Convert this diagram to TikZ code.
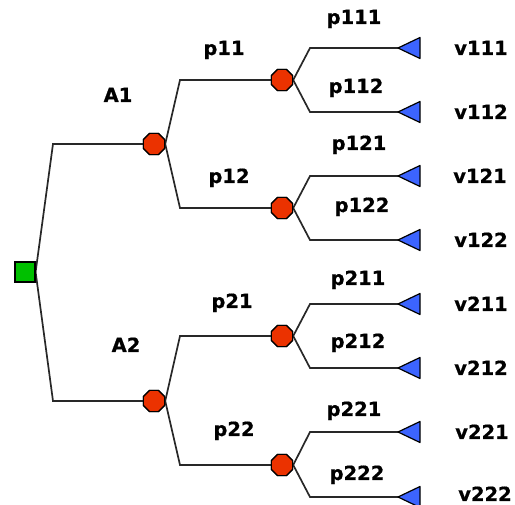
\documentclass[tikz,border=0pt]{standalone}
\usepackage{fontspec}
\setmainfont{DejaVu Sans}
\newfontfamily\lblfont[FakeBold=0.6]{DejaVu Sans Bold}
\usetikzlibrary{shapes.geometric}
\definecolor{decgreen}{RGB}{0,192,0}
\definecolor{chancered}{RGB}{235,50,0}
\definecolor{endblue}{RGB}{60,100,255}
\definecolor{edgegray}{RGB}{40,40,40}
\begin{document}
\begin{tikzpicture}[x=1pt,y=-1pt,
  decision/.style={rectangle, draw=black, fill=decgreen, line width=1.2pt,
    minimum size=20pt, inner sep=0pt},
  chance/.style={regular polygon, regular polygon sides=8, draw=black,
    fill=chancered, line width=1.2pt, minimum size=23pt, inner sep=0pt},
  leaf/.style={fill=endblue, draw=black, line width=1.2pt, line join=round},
  edge/.style={draw=edgegray, line width=1.7pt},
  lbl/.style={anchor=base, font=\fontsize{19.5}{23}\lblfont,
    text=black, inner sep=0pt}]
\useasboundingbox (0,0) rectangle (515,505);

% decision and chance nodes
\node[decision] (R) at (25,272) {};
\node[chance] (A1) at (154,144) {};
\node[chance] (A2) at (154,401) {};
\node[chance] (p11) at (282,80) {};
\node[chance] (p12) at (282,208) {};
\node[chance] (p21) at (282,336) {};
\node[chance] (p22) at (282,465) {};

% tips of the terminal triangles
\foreach \n/\y in {111/48,112/112,121/176,122/240,211/304,212/368,221/432,222/497}
  \coordinate (t\n) at (398,\y);

% branches
\draw[edge] (R.east) -- (53,144) -- (A1.west);
\draw[edge] (R.east) -- (53,401) -- (A2.west);
\draw[edge] (A1.east) -- (180,80) -- (p11.west);
\draw[edge] (A1.east) -- (180,208) -- (p12.west);
\draw[edge] (A2.east) -- (180,336) -- (p21.west);
\draw[edge] (A2.east) -- (180,465) -- (p22.west);
\foreach \p/\a/\b in {p11/111/112,p12/121/122,p21/211/212,p22/221/222}{
  \draw[edge] (\p.east) -- (310,0 |- t\a) -- (t\a);
  \draw[edge] (\p.east) -- (310,0 |- t\b) -- (t\b);
}

% terminal triangles
\foreach \n in {111,112,121,122,211,212,221,222}
  \filldraw[leaf] (t\n) -- ++(22,-10.5) -- ++(0,21) -- cycle;

% redraw nodes on top of branch ends
\node[decision] at (R) {};
\foreach \c in {A1,A2,p11,p12,p21,p22}
  \node[chance] at (\c) {};

% branch labels
\node[lbl] (lA1) at (118,102) {A1};
\node[lbl] (lA2) at (126,352) {A2};
\node[lbl] (lp11) at (224,55) {p11};
\node[lbl] (lp12) at (229,183) {p12};
\node[lbl] (lp21) at (232,308) {p21};
\node[lbl] (lp22) at (234,436) {p22};
\node[lbl] (lp111) at (354,24) {p111};
\node[lbl] (lp112) at (356,93) {p112};
\node[lbl] (lp121) at (359,150) {p121};
\node[lbl] (lp122) at (362,212) {p122};
\node[lbl] (lp211) at (358,285) {p211};
\node[lbl] (lp212) at (358,348) {p212};
\node[lbl] (lp221) at (354,416) {p221};
\node[lbl] (lp222) at (357,480) {p222};

% payoff labels
\node[lbl] (v111) at (481,55) {v111};
\node[lbl] (v112) at (481,119) {v112};
\node[lbl] (v121) at (480,183) {v121};
\node[lbl] (v122) at (481,247) {v122};
\node[lbl] (v211) at (481,311) {v211};
\node[lbl] (v212) at (481,375) {v212};
\node[lbl] (v221) at (482,439) {v221};
\node[lbl] (v222) at (485,501) {v222};
\end{tikzpicture}
\end{document}
